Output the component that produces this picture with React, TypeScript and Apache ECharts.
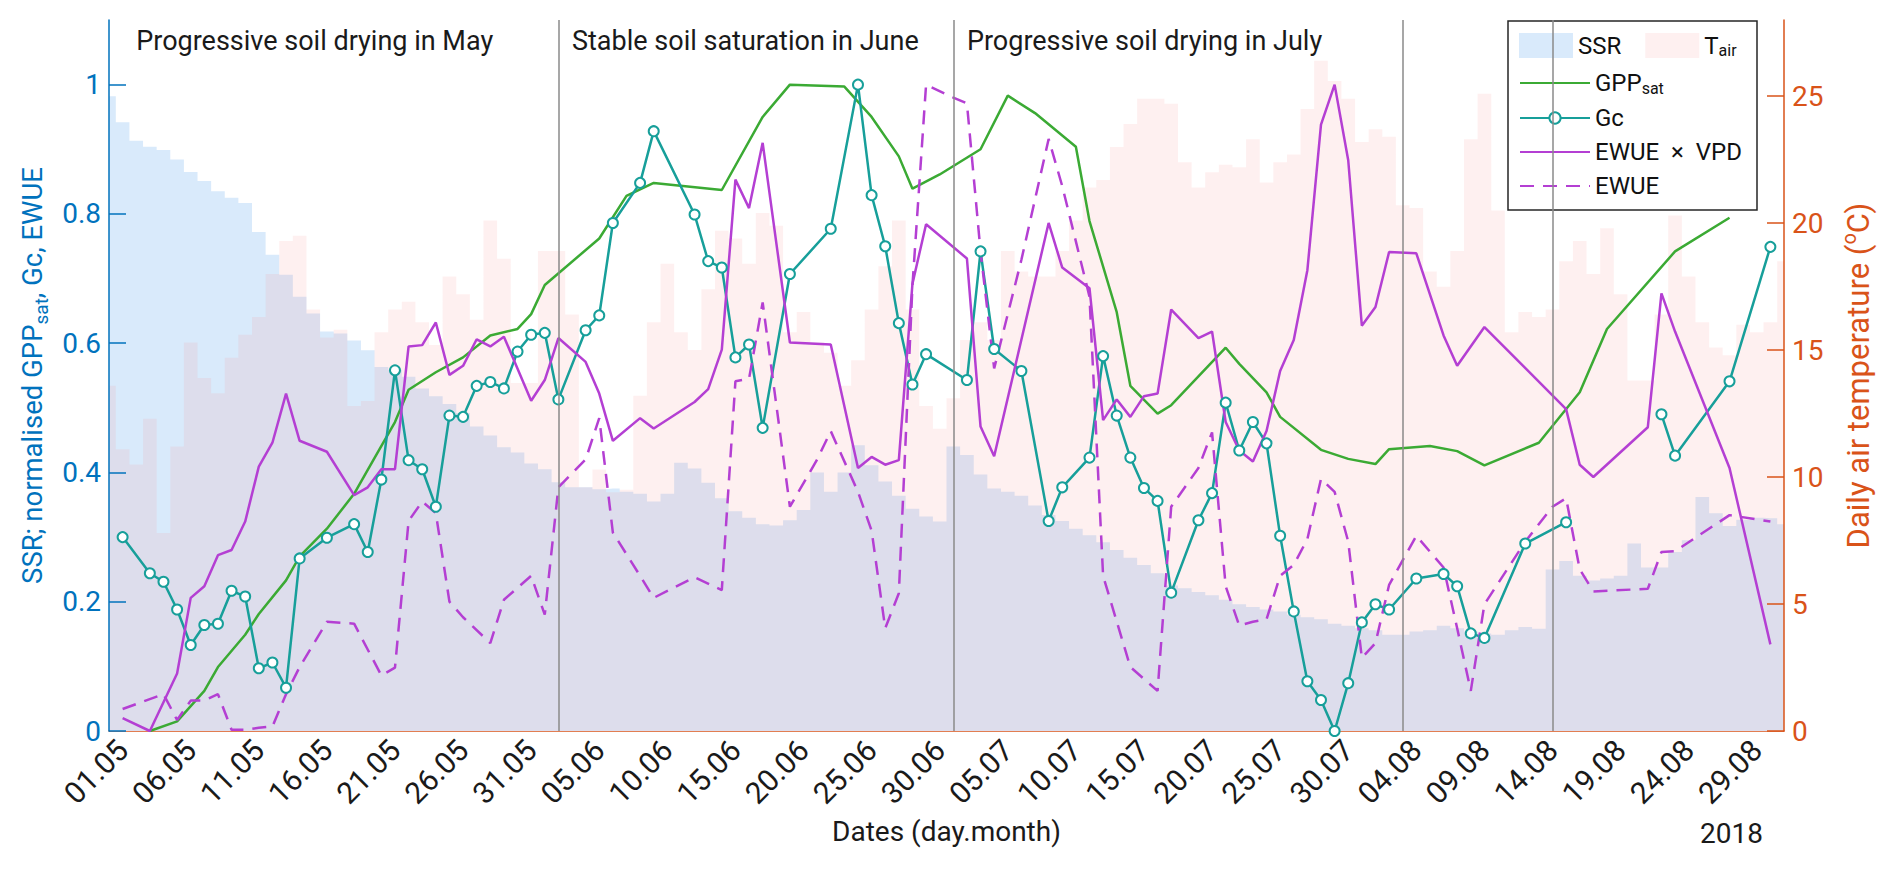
import React, { useRef, useEffect } from 'react';
import * as echarts from 'echarts';

const FONT = 'Roboto';
const BLUE = '#0072BD';
const ORANGE = '#D95319';
const GREEN = '#3BAA34';
const TEAL = '#179F9A';
const PURPLE = '#B43FD3';
const SSR_FILL = '#D9EAFB';
const TAIR_FILL = 'rgba(245,140,140,0.13)';

// day index 0 = 01.05.2018; the daily series start one day earlier (30.04)
const firstDay = -1;

// soil saturation ratio, one value per day from 30.04 to 31.08
const ssr = [
  0.982,
  0.942, 0.913, 0.904, 0.899, 0.884, 0.865, 0.851, 0.835, 0.825, 0.817,
  0.772, 0.737, 0.706, 0.672, 0.646, 0.618, 0.615, 0.604, 0.589, 0.563,
  0.559, 0.548, 0.53, 0.518, 0.506, 0.492, 0.471, 0.457, 0.439, 0.431,
  0.414, 0.405, 0.385, 0.377, 0.377, 0.374, 0.375, 0.37, 0.367, 0.355,
  0.367, 0.415, 0.406, 0.384, 0.36, 0.34, 0.33, 0.32, 0.318, 0.326,
  0.342, 0.4, 0.37, 0.4, 0.442, 0.411, 0.386, 0.364, 0.344, 0.332,
  0.324, 0.44, 0.427, 0.397, 0.375, 0.37, 0.364, 0.349, 0.334, 0.325,
  0.313, 0.303, 0.292, 0.28, 0.268, 0.257, 0.244, 0.225, 0.221, 0.215,
  0.21, 0.203, 0.196, 0.192, 0.188, 0.185, 0.18, 0.176, 0.173, 0.166,
  0.163, 0.159, 0.156, 0.149, 0.149, 0.154, 0.156, 0.163, 0.159, 0.154,
  0.151, 0.149, 0.156, 0.161, 0.158, 0.25, 0.263, 0.24, 0.233, 0.236,
  0.24, 0.29, 0.253, 0.253, 0.277, 0.295, 0.362, 0.337, 0.317, 0.327,
  0.33, 0.329, 0.32,
];

// daily air temperature (°C), same days as ssr
const tair = [
  13.6,
  11.1, 10.5, 12.3, 7.8, 11.2, 15.3, 13.9, 13.3, 14.7, 15.6,
  16.3, 18.0, 19.3, 19.5, 16.6, 15.5, 15.8, 12.8, 13.0, 15.7,
  16.6, 16.9, 16.1, 15.2, 17.9, 17.2, 16.2, 20.1, 18.6, 13.7,
  13.7, 18.9, 18.9, 16.4, 9.6, 10.3, 9.4, 9.5, 13.2, 16.1,
  18.4, 15.7, 15.0, 17.4, 19.7, 19.4, 18.4, 20.4, 19.9, 15.7,
  16.5, 15.3, 14.9, 13.6, 14.6, 16.6, 18.3, 20.1, 16.6, 12.8,
  11.9, 13.1, 15.4, 16.1, 15.4, 18.9, 18.1, 17.9, 17.9, 18.9,
  20.1, 21.4, 21.7, 23.0, 23.9, 24.9, 24.9, 24.7, 22.4, 21.4,
  22.0, 22.3, 22.2, 23.3, 21.6, 22.4, 22.7, 24.5, 26.4, 25.6,
  24.9, 23.2, 23.7, 23.4, 20.7, 20.6, 18.1, 17.5, 18.9, 23.3,
  25.1, 20.5, 15.7, 16.5, 16.3, 16.6, 18.5, 19.3, 18.0, 19.8,
  17.2, 13.8, 13.8, 16.4, 20.3, 17.9, 16.1, 15.1, 14.8, 16.0,
  15.7, 16.1, 18.5,
];

const gppDays = [
  2, 4, 6, 7, 9, 10, 12, 13, 15, 17, 18, 20, 21, 23, 25, 27, 29, 30, 31, 35,
  37, 39, 44, 47, 49, 53, 55, 57, 58, 60, 63, 65, 67, 70, 71, 73, 74, 76, 77, 81,
  82, 84, 85, 88, 90, 92, 93, 96, 98, 100, 104, 107, 109, 114, 118,
];
const gppValues = [
  0.0, 0.015, 0.062, 0.099, 0.149, 0.181, 0.233, 0.27, 0.313, 0.367, 0.404, 0.478, 0.528, 0.555, 0.578, 0.612, 0.622, 0.645, 0.69, 0.762,
  0.828, 0.848, 0.837, 0.95, 1.0, 0.997, 0.95, 0.889, 0.839, 0.861, 0.9, 0.983, 0.956, 0.904, 0.789, 0.648, 0.534, 0.491, 0.504, 0.593,
  0.568, 0.524, 0.486, 0.435, 0.421, 0.413, 0.436, 0.441, 0.433, 0.411, 0.446, 0.524, 0.622, 0.742, 0.794,
];

const gcDays = [
  0, 2, 3, 4, 5, 6, 7, 8, 9, 10, 11, 12, 13, 15, 17, 18, 19, 20, 21, 22,
  23, 24, 25, 26, 27, 28, 29, 30, 31, 32, 34, 35, 36, 38, 39, 42, 43, 44, 45, 46,
  47, 49, 52, 54, 55, 56, 57, 58, 59, 62, 63, 64, 66, 68, 69, 71, 72, 73, 74, 75,
  76, 77, 79, 80, 81, 82, 83, 84, 85, 86, 87, 88, 89, 90, 91, 92, 93, 95, 97, 98,
  99, 100, 103, 106, 110, 113, 114, 118, 121,
];
const gcValues = [
  0.3, 0.244, 0.231, 0.188, 0.133, 0.164, 0.166, 0.217, 0.208, 0.097, 0.106, 0.067, 0.267, 0.299, 0.32, 0.277, 0.389, 0.558, 0.419, 0.405,
  0.347, 0.488, 0.486, 0.534, 0.54, 0.53, 0.587, 0.613, 0.616, 0.513, 0.62, 0.643, 0.786, 0.848, 0.928, 0.799, 0.727, 0.717, 0.578, 0.598,
  0.469, 0.707, 0.777, 1.0, 0.829, 0.75, 0.631, 0.536, 0.583, 0.543, 0.742, 0.591, 0.557, 0.325, 0.377, 0.423, 0.58, 0.488, 0.423, 0.376,
  0.356, 0.214, 0.326, 0.368, 0.508, 0.434, 0.478, 0.445, 0.302, 0.185, 0.077, 0.048, 0.0, 0.074, 0.168, 0.196, 0.188, 0.236, 0.243, 0.224,
  0.151, 0.144, 0.29, 0.323, null, 0.49, 0.426, 0.541, 0.749,
];

const ewueVpdDays = [
  0, 2, 4, 5, 6, 7, 8, 9, 10, 11, 12, 13, 15, 17, 18, 19, 20, 21, 22, 23,
  24, 25, 26, 27, 28, 30, 31, 32, 34, 35, 36, 38, 39, 42, 43, 44, 45, 46, 47, 49,
  52, 54, 55, 56, 57, 58, 59, 62, 63, 64, 68, 69, 71, 72, 73, 74, 75, 76, 77, 79,
  80, 81, 82, 83, 84, 85, 86, 87, 88, 89, 90, 91, 92, 93, 95, 97, 98, 100, 106, 107,
  108, 112, 113, 114, 118, 121,
];
const ewueVpdValues = [
  0.02, 0.0, 0.089, 0.206, 0.224, 0.272, 0.28, 0.324, 0.409, 0.446, 0.522, 0.449, 0.432, 0.365, 0.377, 0.405, 0.405, 0.595, 0.597, 0.632,
  0.551, 0.565, 0.606, 0.595, 0.61, 0.511, 0.543, 0.608, 0.571, 0.522, 0.449, 0.484, 0.468, 0.509, 0.529, 0.59, 0.853, 0.809, 0.91, 0.601,
  0.598, 0.407, 0.424, 0.412, 0.419, 0.692, 0.784, 0.731, 0.471, 0.425, 0.786, 0.717, 0.685, 0.481, 0.513, 0.486, 0.518, 0.522, 0.652, 0.608,
  0.618, 0.478, 0.434, 0.417, 0.464, 0.557, 0.605, 0.713, 0.938, 1.0, 0.883, 0.627, 0.656, 0.741, 0.739, 0.612, 0.565, 0.625, 0.498, 0.412,
  0.393, 0.47, 0.677, 0.618, 0.407, 0.134,
];

const ewueDays = [
  0, 3, 4, 5, 6, 7, 8, 9, 10, 11, 12, 13, 15, 17, 19, 20, 21, 22, 23, 24,
  25, 27, 28, 30, 31, 32, 34, 35, 36, 38, 39, 42, 44, 45, 46, 47, 49, 51, 52, 54,
  55, 56, 57, 58, 59, 61, 62, 63, 64, 66, 68, 69, 71, 72, 74, 76, 77, 79, 80, 81,
  82, 83, 84, 85, 86, 87, 88, 89, 90, 91, 92, 93, 95, 97, 98, 99, 100, 103, 105, 106,
  107, 108, 112, 113, 114, 118, 121,
];
const ewueValues = [
  0.034, 0.057, 0.017, 0.047, 0.047, 0.057, 0.002, 0.002, 0.005, 0.007, 0.057, 0.099, 0.169, 0.166, 0.086, 0.098, 0.325, 0.355, 0.337, 0.2,
  0.176, 0.136, 0.203, 0.24, 0.18, 0.377, 0.42, 0.484, 0.307, 0.24, 0.206, 0.238, 0.218, 0.541, 0.545, 0.663, 0.347, 0.42, 0.464, 0.37,
  0.31, 0.159, 0.213, 0.689, 1.0, 0.98, 0.971, 0.742, 0.561, 0.729, 0.916, 0.843, 0.672, 0.24, 0.099, 0.062, 0.347, 0.407, 0.462, 0.224,
  0.163, 0.169, 0.173, 0.24, 0.257, 0.297, 0.39, 0.37, 0.293, 0.113, 0.136, 0.226, 0.302, 0.253, 0.159, 0.062, 0.196, 0.293, 0.347, 0.36,
  0.25, 0.216, 0.22, 0.277, 0.278, 0.334, 0.324,
];

const dateTicks = [0, 5, 10, 15, 20, 25, 30, 35, 40, 45, 50, 55, 60, 65, 70, 75, 80, 85, 90, 95, 100, 105, 110, 115, 120];
const leftTicks = [0, 0.2, 0.4, 0.6, 0.8, 1];
const rightTicks = [0, 5, 10, 15, 20, 25];

// period boundaries (day index) and the period captions
const periodBounds = [32, 61, 94, 105];
const periodStarts = [1, 33, 62];
const periodLabels = [
  'Progressive soil drying in May',
  'Stable soil saturation in June',
  'Progressive soil drying in July',
];

const pad = (n) => (n < 10 ? '0' + n : '' + n);
const fmtDate = (v) => {
  const dt = new Date(Date.UTC(2018, 4, 1 + v));
  return pad(dt.getUTCDate()) + '.' + pad(dt.getUTCMonth() + 1);
};

const pairs = (days, values) => days.map((d, i) => [d, values[i]]);

const legendNames = {
  SSR: '{m|SSR}',
  Tair: '{m|T}{s|air}',
  GPPsat: '{m|GPP}{s|sat}',
  Gc: '{m|Gc}',
  EWUExVPD: '{m|EWUE  ×  VPD}',
  EWUE: '{m|EWUE}',
};

const legendText = {
  fontFamily: FONT,
  fontSize: 24,
  color: '#111',
  rich: {
    m: { fontFamily: FONT, fontSize: 24, color: '#111' },
    s: { fontFamily: FONT, fontSize: 16, verticalAlign: 'bottom', padding: [10, 0, 0, 0], color: '#111' },
  },
};

// hides the dot that line series put in the middle of their legend icon
const noDot = { opacity: 0 };

const App = () => {
  const chartRef = useRef(null);

  useEffect(() => {
    const chart = echarts.init(chartRef.current, null, { renderer: 'svg' });

    const option = {
      animation: false,
      textStyle: { fontFamily: FONT },
      grid: { left: 109, right: 108, top: 20, bottom: 140, containLabel: false },
      legend: [
        {
          data: [
            { name: 'SSR', icon: 'rect', itemStyle: { color: SSR_FILL } },
            { name: 'Tair', icon: 'rect', itemStyle: { color: TAIR_FILL } },
          ],
          left: 1519,
          top: 33,
          padding: 0,
          itemWidth: 54,
          itemHeight: 25,
          itemGap: 24,
          selectedMode: false,
          formatter: (n) => legendNames[n],
          textStyle: legendText,
        },
        {
          data: [
            { name: 'GPPsat', itemStyle: noDot },
            { name: 'Gc' },
            { name: 'EWUExVPD', itemStyle: noDot },
            { name: 'EWUE', itemStyle: noDot },
          ],
          orient: 'vertical',
          left: 1519,
          top: 71,
          padding: 0,
          itemWidth: 70,
          itemHeight: 14,
          itemGap: 10,
          selectedMode: false,
          formatter: (n) => legendNames[n],
          textStyle: legendText,
        },
      ],
      xAxis: {
        type: 'value',
        min: firstDay,
        max: 122,
        axisLine: { show: true, onZero: false, lineStyle: { color: ORANGE, width: 1.5 } },
        axisTick: { show: false },
        splitLine: { show: false },
        axisLabel: {
          customValues: dateTicks,
          formatter: fmtDate,
          rotate: 45,
          fontSize: 30,
          fontFamily: FONT,
          color: '#1a1a1a',
          margin: 14,
        },
        name: 'Dates (day.month)',
        nameLocation: 'middle',
        nameGap: 86,
        nameTextStyle: { fontSize: 28, fontFamily: FONT, color: '#1a1a1a' },
      },
      yAxis: [
        {
          type: 'value',
          position: 'left',
          z: 3,
          min: 0,
          max: 1.1,
          axisLine: { show: true, onZero: false, lineStyle: { color: BLUE, width: 1.5 } },
          axisTick: { show: true, inside: true, length: 17, customValues: leftTicks, lineStyle: { color: BLUE, width: 1.5 } },
          axisLabel: { customValues: leftTicks, fontSize: 28, fontFamily: FONT, color: BLUE, margin: 8 },
          splitLine: { show: false },
          name: '{m|SSR; normalised GPP}{s|sat}{m|, Gc, EWUE}',
          nameLocation: 'middle',
          nameRotate: 90,
          nameGap: 57,
          nameTextStyle: {
            color: BLUE,
            rich: {
              m: { fontFamily: FONT, fontSize: 27.5, lineHeight: 38, color: BLUE },
              s: { fontFamily: FONT, fontSize: 19, lineHeight: 17, verticalAlign: 'bottom', color: BLUE },
            },
          },
        },
        {
          type: 'value',
          position: 'right',
          z: 3,
          min: 0,
          max: 28,
          axisLine: { show: true, onZero: false, lineStyle: { color: ORANGE, width: 1.5 } },
          axisTick: { show: true, inside: true, length: 17, customValues: rightTicks, lineStyle: { color: ORANGE, width: 1.5 } },
          axisLabel: { customValues: rightTicks, fontSize: 28, fontFamily: FONT, color: ORANGE, margin: 8 },
          splitLine: { show: false },
          name: '{m|Daily air temperature (}{p|o}{m|C)}',
          nameLocation: 'middle',
          nameRotate: 90,
          nameGap: 55,
          nameTextStyle: {
            color: ORANGE,
            rich: {
              m: { fontFamily: FONT, fontSize: 31, lineHeight: 38, color: ORANGE },
              p: { fontFamily: FONT, fontSize: 20, lineHeight: 20, verticalAlign: 'top', color: ORANGE },
            },
          },
        },
      ],
      series: [
        {
          name: 'SSR',
          type: 'line',
          step: 'middle',
          data: ssr.map((v, i) => [i + firstDay, v]),
          symbol: 'none',
          silent: true,
          lineStyle: { width: 0 },
          itemStyle: { color: SSR_FILL },
          areaStyle: { color: SSR_FILL, opacity: 1 },
        },
        {
          name: 'Tair',
          type: 'line',
          yAxisIndex: 1,
          step: 'middle',
          data: tair.map((v, i) => [i + firstDay, v]),
          symbol: 'none',
          silent: true,
          lineStyle: { width: 0 },
          itemStyle: { color: TAIR_FILL },
          areaStyle: { color: TAIR_FILL, opacity: 1 },
        },
        {
          name: 'GPPsat',
          type: 'line',
          data: pairs(gppDays, gppValues),
          symbol: 'none',
          lineStyle: { color: GREEN, width: 2.5 },
          itemStyle: { color: GREEN },
          markLine: {
            silent: true,
            symbol: ['none', 'none'],
            label: { show: false },
            lineStyle: { color: '#8a8a8a', width: 1.5, type: 'solid' },
            data: periodBounds.map((d) => ({ xAxis: d })),
          },
        },
        {
          name: 'Gc',
          type: 'line',
          data: pairs(gcDays, gcValues),
          connectNulls: false,
          symbol: 'emptyCircle',
          symbolSize: 10,
          lineStyle: { color: TEAL, width: 2.5 },
          itemStyle: { color: TEAL, borderColor: TEAL, borderWidth: 3 },
        },
        {
          name: 'EWUExVPD',
          type: 'line',
          data: pairs(ewueVpdDays, ewueVpdValues),
          symbol: 'none',
          lineStyle: { color: PURPLE, width: 2.5 },
          itemStyle: { color: PURPLE },
        },
        {
          name: 'EWUE',
          type: 'line',
          data: pairs(ewueDays, ewueValues),
          symbol: 'none',
          lineStyle: { color: PURPLE, width: 2.5, type: [14, 9] },
          itemStyle: { color: PURPLE },
        },
      ],
      graphic: [
        {
          id: 'legendBox',
          type: 'rect',
          z: 3,
          shape: { x: 1508, y: 21, width: 249, height: 189 },
          style: { fill: '#fff', stroke: '#262626', lineWidth: 1.5 },
        },
        {
          id: 'year',
          type: 'text',
          x: 1700,
          y: 833,
          style: { text: '2018', fontSize: 28, fontFamily: FONT, fill: '#1a1a1a', verticalAlign: 'middle' },
        },
      ],
    };

    chart.setOption(option);

    // period captions sit just right of each period start
    chart.setOption({
      graphic: periodLabels.map((text, i) => ({
        id: 'period' + i,
        type: 'text',
        x: chart.convertToPixel({ xAxisIndex: 0 }, periodStarts[i]),
        y: 41,
        style: { text, fontSize: 27, fontFamily: FONT, fill: '#1a1a1a', verticalAlign: 'middle' },
      })),
    });

    return () => {
      chart.dispose();
    };
  }, []);

  return (
    <div
      ref={chartRef}
      style={{ position: 'fixed', left: 0, top: 0, width: '1892px', height: '871px', background: '#fff' }}
    />
  );
};

export default App;
